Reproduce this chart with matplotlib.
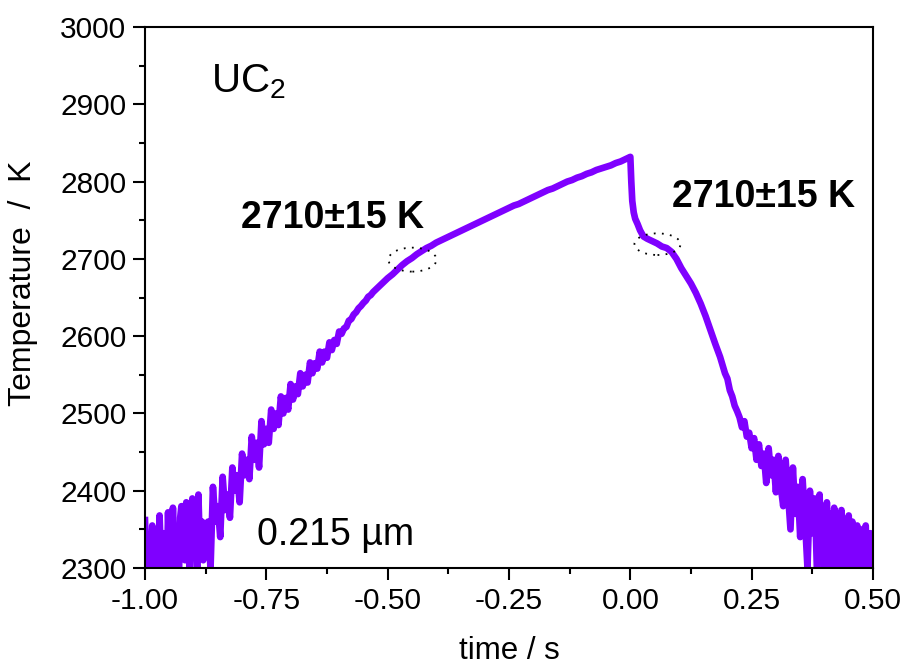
import matplotlib
matplotlib.use("Agg")
import matplotlib.pyplot as plt
from matplotlib.patches import Ellipse
from matplotlib.ticker import MultipleLocator, FormatStrFormatter

plt.rcParams['font.family'] = ['Liberation Sans', 'DejaVu Sans']
plt.rcParams['axes.unicode_minus'] = False
plt.rcParams['mathtext.fontset'] = 'custom'
plt.rcParams['mathtext.rm'] = 'Liberation Sans'
plt.rcParams['mathtext.it'] = 'Liberation Sans'

# ---- data ----
# very noisy start (-1.000 .. -0.880, every 2.5 ms)
t_start = [round(-1.000 + 0.0025 * i, 4) for i in range(49)]
T_start = [2362, 2310, 2295, 2335, 2300, 2320, 2355, 2305, 2290, 2340,
           2315, 2285, 2368, 2320, 2305, 2345, 2298, 2330, 2290, 2372,
           2310, 2325, 2300, 2378, 2330, 2305, 2350, 2320, 2292, 2365,
           2380, 2315, 2330, 2310, 2385, 2340, 2322, 2295, 2350, 2390,
           2335, 2318, 2345, 2300, 2395, 2340, 2325, 2360, 2310]

# noisy rise (-0.875 .. -0.600, every 5 ms)
t_rise_noisy = [round(-0.875 + 0.005 * i, 3) for i in range(56)]
T_rise_noisy = [2345, 2360, 2298, 2405, 2360,
                2380, 2340, 2418, 2375, 2395, 2365, 2430, 2400, 2420, 2385,
                2448, 2420, 2440, 2415, 2470, 2440, 2462, 2430, 2490, 2460,
                2480, 2462, 2505, 2480, 2500, 2485, 2522, 2500, 2520, 2505,
                2538, 2518, 2535, 2525, 2552, 2535, 2550, 2540, 2566, 2552,
                2565, 2558, 2580, 2566, 2580, 2572, 2592, 2582, 2595, 2590,
                2606]

t_rise = [-0.595, -0.59, -0.585, -0.58, -0.575, -0.57, -0.565, -0.56, -0.555,
          -0.55, -0.545, -0.54, -0.535, -0.53, -0.525, -0.52, -0.515, -0.51,
          -0.505, -0.50, -0.49, -0.48, -0.47, -0.46, -0.45, -0.44, -0.43,
          -0.42, -0.41, -0.40, -0.39, -0.38, -0.37, -0.36, -0.35, -0.34,
          -0.33, -0.32, -0.31, -0.30, -0.29, -0.28, -0.27, -0.26, -0.25,
          -0.24, -0.23, -0.22, -0.21, -0.20, -0.19, -0.18, -0.17, -0.16,
          -0.15, -0.14, -0.13, -0.12, -0.11, -0.10, -0.09, -0.08, -0.07,
          -0.06, -0.05, -0.04, -0.03, -0.02, -0.01, 0.000]
T_rise = [2603, 2610, 2612, 2620, 2622, 2628, 2631, 2636, 2639, 2643,
          2646, 2651, 2653, 2657, 2660, 2663, 2666, 2669, 2672, 2675,
          2680, 2686, 2692, 2697, 2701, 2706, 2710, 2714, 2717, 2721,
          2724, 2727, 2730, 2733, 2736, 2739, 2742, 2745, 2748, 2751,
          2754, 2757, 2760, 2763, 2766, 2769, 2771, 2774, 2777, 2780,
          2783, 2786, 2789, 2791, 2794, 2797, 2800, 2802, 2805, 2807,
          2810, 2812, 2815, 2817, 2819, 2821, 2824, 2826, 2829, 2832]

t_fall = [0.002, 0.004, 0.007, 0.010, 0.015, 0.020, 0.027, 0.035, 0.045, 0.055,
          0.065, 0.075, 0.085, 0.095, 0.105, 0.115, 0.125, 0.135, 0.145, 0.155,
          0.165, 0.175, 0.185, 0.195]
T_fall = [2800, 2775, 2760, 2752, 2745, 2737, 2729, 2726, 2723, 2720,
          2716, 2714, 2709, 2700, 2688, 2678, 2668, 2656, 2642, 2626,
          2608, 2590, 2573, 2552]

# noisy fall (0.200 .. 0.375, every 5 ms)
t_fall_noisy = [round(0.200 + 0.005 * i, 3) for i in range(36)]
T_fall_noisy = [2545, 2530, 2522, 2510, 2503, 2495, 2482, 2490, 2470, 2475,
                2455, 2468, 2440, 2460, 2432, 2448, 2410, 2455, 2420, 2440,
                2398, 2445, 2405, 2380, 2440, 2395, 2350, 2430, 2370, 2405,
                2340, 2415, 2360, 2300, 2400, 2345]

# very noisy end (0.380 .. 0.500, every 2.5 ms)
t_end = [round(0.380 + 0.0025 * i, 4) for i in range(49)]
T_end = [2390, 2340, 2285, 2360, 2395, 2330, 2310, 2375, 2290, 2350,
         2385, 2320, 2300, 2370, 2340, 2280, 2378, 2330, 2345, 2295,
         2365, 2310, 2375, 2330, 2285, 2355, 2300, 2340, 2368, 2295,
         2320, 2360, 2290, 2345, 2305, 2355, 2285, 2330, 2350, 2300,
         2340, 2290, 2355, 2310, 2335, 2295, 2345, 2305, 2340]

time = t_start + t_rise_noisy + t_rise + t_fall + t_fall_noisy + t_end
temperature = T_start + T_rise_noisy + T_rise + T_fall + T_fall_noisy + T_end

plateau_t = [-0.449, 0.056]
plateau_T = [2699, 2719]
plateau_label = "2710±15 K"

# ---- figure ----
fig = plt.figure(figsize=(9.04, 6.64), dpi=100)
ax = fig.add_axes([0.1604, 0.1446, 0.8053, 0.8147])

ax.plot(time, temperature, color='#7F00FF', lw=4.8, solid_joinstyle='round')

for tc, Tc, w, h in zip(plateau_t, plateau_T, [0.099, 0.095], [31, 28]):
    ax.add_patch(Ellipse((tc, Tc), w, h, fill=False, ec='black', lw=1.3,
                         ls=(0, (1, 3.5)), zorder=3))

ax.set_xlim(-1.0, 0.5)
ax.set_ylim(2300, 3000)
ax.xaxis.set_major_locator(MultipleLocator(0.25))
ax.xaxis.set_minor_locator(MultipleLocator(0.125))
ax.yaxis.set_major_locator(MultipleLocator(100))
ax.yaxis.set_minor_locator(MultipleLocator(50))
ax.xaxis.set_major_formatter(FormatStrFormatter('%.2f'))

ax.tick_params(which='major', direction='out', length=8.5, width=1.5,
               labelsize=21.5, pad=5)
ax.tick_params(which='minor', direction='out', length=4.5, width=1.5)
for s in ax.spines.values():
    s.set_linewidth(1.5)

ax.set_xlabel('time / s', fontsize=22.5)
ax.set_ylabel('Temperature  /  K', fontsize=23)
ax.xaxis.set_label_coords(0.5, -0.125)
ax.yaxis.set_label_coords(-0.147, 0.527)

ax.text(-0.614, 2740, plateau_label, fontsize=27, fontweight='bold',
        ha='center', va='baseline')
ax.text(0.274, 2767, plateau_label, fontsize=27, fontweight='bold',
        ha='center', va='baseline')
ax.text(-0.865, 2916, 'UC$_2$', fontsize=29, ha='left', va='baseline')
ax.text(-0.769, 2330, '0.215 µm', fontsize=27, ha='left', va='baseline')

fig.savefig('out.png', dpi=100)
